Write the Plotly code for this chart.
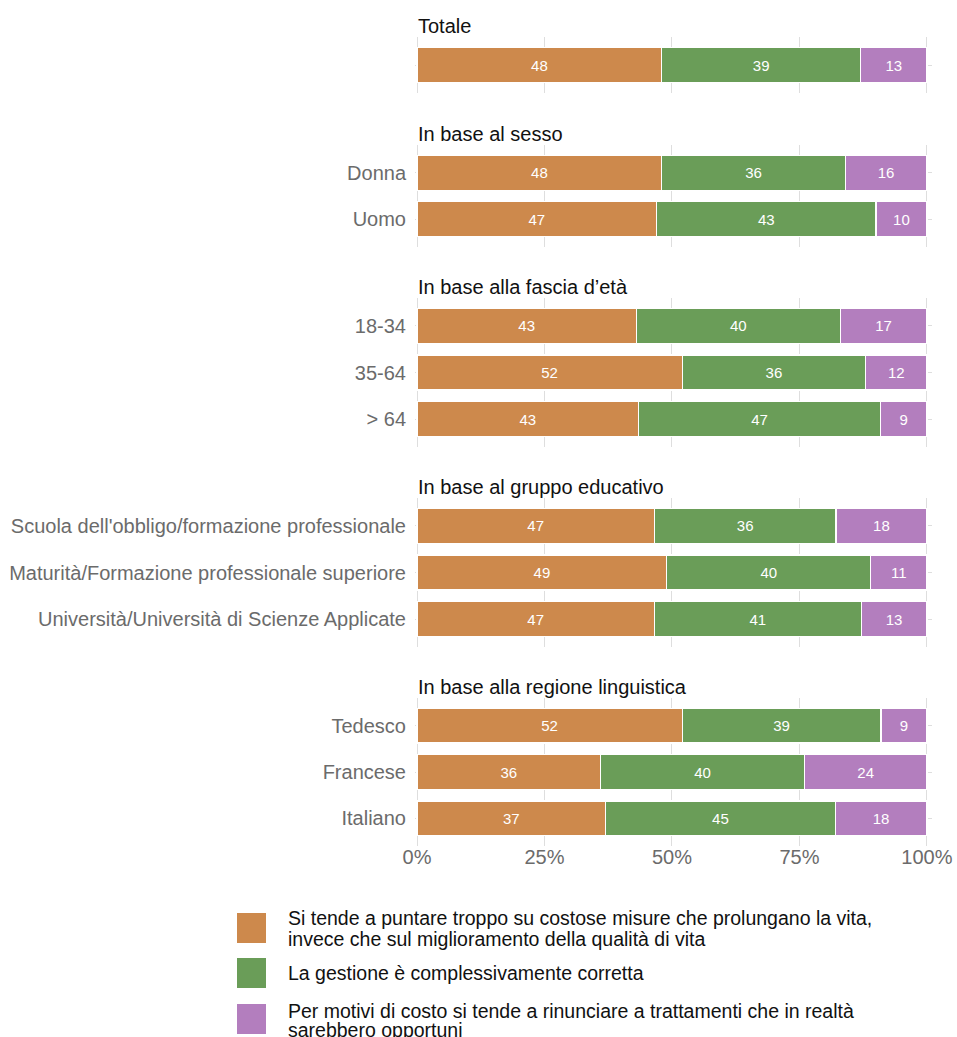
import plotly.graph_objects as go

# ---------------- data ----------------
series_names = [
    "Si tende a puntare troppo su costose misure che prolungano la vita, invece che sul miglioramento della qualità di vita",
    "La gestione è complessivamente corretta",
    "Per motivi di costo si tende a rinunciare a trattamenti che in realtà sarebbero opportuni",
]
legend_lines = [
    ["Si tende a puntare troppo su costose misure che prolungano la vita,",
     "invece che sul miglioramento della qualità di vita"],
    ["La gestione è complessivamente corretta"],
    ["Per motivi di costo si tende a rinunciare a trattamenti che in realtà",
     "sarebbero opportuni"],
]
colors = ["#CD894C", "#6A9D58", "#B37EBE"]

panel_titles = [
    "Totale",
    "In base al sesso",
    "In base alla fascia d’età",
    "In base al gruppo educativo",
    "In base alla regione linguistica",
]
categories = [
    [""],
    ["Donna", "Uomo"],
    ["18-34", "35-64", "> 64"],
    ["Scuola dell'obbligo/formazione professionale",
     "Maturità/Formazione professionale superiore",
     "Università/Università di Scienze Applicate"],
    ["Tedesco", "Francese", "Italiano"],
]
v_troppo = [[48], [48, 47], [43, 52, 43], [47, 49, 47], [52, 36, 37]]
v_corretta = [[39], [36, 43], [40, 36, 47], [36, 40, 41], [39, 40, 45]]
v_rinuncia = [[13], [16, 10], [17, 12, 9], [18, 11, 13], [9, 24, 18]]
x_ticks = [0, 25, 50, 75, 100]

# ---------------- layout geometry (screen pixels) ----------------
W, H = 957, 1037
ML = 415
MR = W - 932
panel_px = [(37, 93), (145, 247), (298, 447), (498, 647), (698, 846)]


def py(p):
    return 1 - p / H


def px(p):
    return (p - ML) / (W - ML - MR)


GRID = "#DEDEDE"
LABEL_GREY = "#6B6B6B"
FONT = "Liberation Sans, Arial, Helvetica, sans-serif"

fig = go.Figure()
values = [v_troppo, v_corretta, v_rinuncia]
annotations = []

for i, cats in enumerate(categories):
    n = len(cats)
    xa = "x" if i == 0 else f"x{i+1}"
    ya = "y" if i == 0 else f"y{i+1}"
    for s in range(3):
        vals = values[s][i]
        fig.add_trace(go.Bar(
            x=vals, y=list(range(n)), orientation="h",
            xaxis=xa, yaxis=ya,
            marker=dict(color=colors[s], line=dict(color="white", width=1.2)),
            width=0.75,
            text=[str(v) for v in vals], textposition="inside",
            insidetextanchor="middle", textangle=0,
            textfont=dict(color="white", size=15, family=FONT),
            name=series_names[s], showlegend=False, hoverinfo="x+y",
        ))
    top, bot = panel_px[i]
    xkey = "xaxis" if i == 0 else f"xaxis{i+1}"
    ykey = "yaxis" if i == 0 else f"yaxis{i+1}"
    fig.layout[xkey] = dict(
        domain=[0, 1], anchor=ya, range=[-0.4, 101],
        tickvals=x_ticks, ticktext=[f"{t}%" for t in x_ticks],
        showticklabels=(i == len(categories) - 1),
        showgrid=True, gridcolor=GRID, gridwidth=1, zeroline=False,
        showline=False, ticks="", ticklabelstandoff=-3,
        ticklabeloverflow="allow",
        tickfont=dict(size=20, color=LABEL_GREY, family=FONT),
        fixedrange=True,
    )
    fig.layout[ykey] = dict(
        domain=[py(bot), py(top)], anchor=xa,
        range=[n - 1 + 0.6, -0.6],
        tickvals=list(range(n)), ticktext=cats,
        showgrid=True, gridcolor=GRID, gridwidth=1, zeroline=False,
        showline=False, ticks="", ticklabelstandoff=8,
        tickfont=dict(size=20, color=LABEL_GREY, family=FONT),
        fixedrange=True,
    )
    annotations.append(dict(
        text=panel_titles[i], xref="paper", yref="paper",
        x=0, y=py(top), xanchor="left", yanchor="middle",
        xshift=1, yshift=11, showarrow=False,
        font=dict(size=20, color="#111111", family=FONT),
    ))

# ---------------- legend (big squares like the original) ----------------
shapes = []
leg_square_top = [913, 958, 1004]
leg_line_y = [[918, 939], [973], [1011, 1030]]
for s in range(3):
    t = leg_square_top[s]
    shapes.append(dict(
        type="rect", xref="paper", yref="paper",
        x0=px(237), x1=px(266), y0=py(t + 30), y1=py(t),
        fillcolor=colors[s], line=dict(width=0), layer="above",
    ))
    for line, yline in zip(legend_lines[s], leg_line_y[s]):
        annotations.append(dict(
            text=line, xref="paper", yref="paper",
            x=px(286), y=py(yline), xanchor="left", yanchor="middle",
            showarrow=False,
            font=dict(size=19.5, color="#111111", family=FONT),
        ))

fig.update_layout(
    width=W, height=H,
    margin=dict(l=ML, r=MR, t=0, b=0),
    barmode="stack", barnorm="percent",
    plot_bgcolor="white", paper_bgcolor="white",
    font=dict(family=FONT),
    showlegend=False,
    annotations=annotations, shapes=shapes,
    uniformtext=dict(minsize=10, mode="show"),
)

# remove the browser's default 8px page margin so the figure fills the window
fig.write_html(
    "out.html",
    config={"displayModeBar": False},
    post_script="document.body.style.margin='0';",
)
